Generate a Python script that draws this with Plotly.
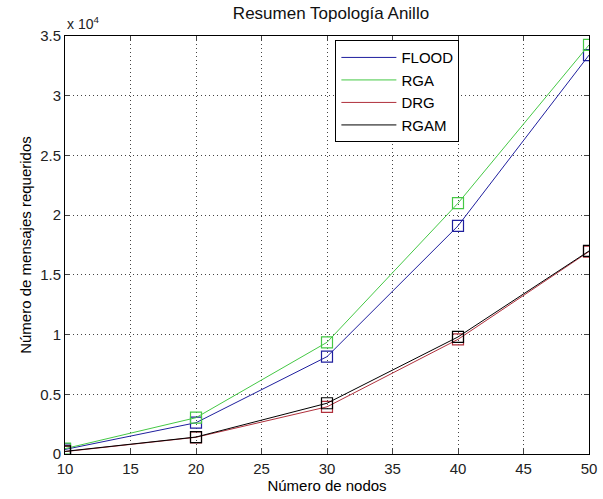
import plotly.graph_objects as go

nodos = [10, 20, 30, 40, 50]
flood = [380, 2620, 8150, 19100, 33400]
rga = [450, 3040, 9350, 21000, 34250]
drg = [200, 1400, 3950, 9600, 16950]
rgam = [220, 1420, 4250, 9800, 17000]

series_names = ["FLOOD", "RGA", "DRG", "RGAM"]
series_vals = [flood, rga, drg, rgam]
colors = ["#1f1f9e", "#45c845", "#b0303c", "#000000"]

y_tickvals = [0, 5000, 10000, 15000, 20000, 25000, 30000, 35000]
y_ticktext = ["0", "0.5", "1", "1.5", "2", "2.5", "3", "3.5"]
x_tickvals = [10, 15, 20, 25, 30, 35, 40, 45, 50]

fig = go.Figure()
for name, vals, c in zip(series_names, series_vals, colors):
    fig.add_trace(go.Scatter(
        x=nodos, y=vals, mode="lines+markers", name=name, showlegend=False,
        line=dict(color=c, width=1),
        marker=dict(symbol="square-open", size=11, color=c, line=dict(width=1.2)),
    ))
for name, vals, c in zip(series_names, series_vals, colors):
    fig.add_trace(go.Scatter(
        x=[None], y=[None], mode="lines", name=name,
        line=dict(color=c, width=1),
    ))

fam = "Liberation Sans, Arial, sans-serif"
font = dict(family=fam, size=14, color="#000")
axis_common = dict(ticks="inside", ticklen=5, showline=True, linecolor="#000", linewidth=1,
                   mirror="ticks", showgrid=True, gridcolor="#444", griddash="1px,3px",
                   gridwidth=1, zeroline=False, tickfont=dict(family=fam, size=15, color="#222"),
                   ticklabeloverflow="allow")
fig.update_layout(
    width=603, height=499,
    margin=dict(l=65, r=6, t=36, b=45),
    plot_bgcolor="white", paper_bgcolor="white",
    font=font,
    title=dict(text="Resumen Topología Anillo", x=(65 + 532 / 2) / 603, xanchor="center",
               y=1 - 13 / 499, yanchor="middle", font=dict(family=fam, size=17, color="#111")),
    showlegend=True,
    legend=dict(x=0.516, y=0.99, xanchor="left", yanchor="top",
                bgcolor="white", bordercolor="#000", borderwidth=1,
                font=dict(family=fam, size=15), tracegroupgap=0, itemwidth=55),
    xaxis=dict(range=[10, 50], tickvals=x_tickvals, ticklabelstandoff=1,
               title=dict(text="Número de nodos", standoff=3, font=dict(family=fam, size=15)),
               **axis_common),
    yaxis=dict(range=[0, 35000], tickvals=y_tickvals, ticktext=y_ticktext,
               title=dict(text="Número de mensajes requeridos", standoff=4,
                          font=dict(family=fam, size=15)),
               **axis_common),
    annotations=[dict(text="x 10<sup>4</sup>", xref="paper", yref="paper",
                      x=0, y=1, xanchor="left", yanchor="bottom", showarrow=False,
                      font=dict(family=fam, size=14, color="#222"), yshift=2)],
)

fig.write_html("out.html")
